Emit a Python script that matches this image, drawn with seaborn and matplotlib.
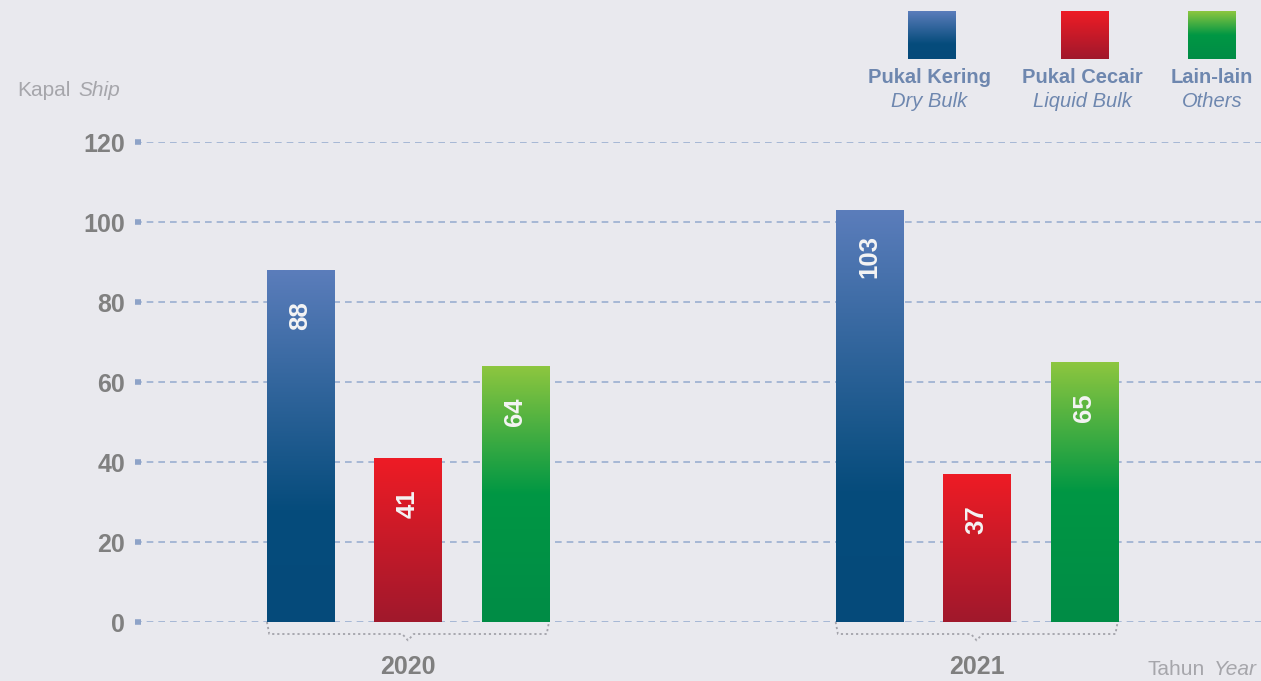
import numpy as np
import pandas as pd
import matplotlib
matplotlib.use("Agg")
from matplotlib import pyplot as plt
from matplotlib.colors import LinearSegmentedColormap
import seaborn as sns

# data
years = ["2020", "2021"]
types = ["Pukal Kering", "Pukal Cecair", "Lain-lain"]
types_en = ["Dry Bulk", "Liquid Bulk", "Others"]
dry_bulk = [88, 103]
liquid_bulk = [41, 37]
others = [64, 65]

BG = "#e9e9ee"
plt.rcParams["font.family"] = ["Liberation Sans", "DejaVu Sans"]

# colour ramps, bottom -> top
grad_maps = [
    LinearSegmentedColormap.from_list("blue", [(0, "#054a7a"), (0.32, "#064c7c"), (1, "#5b7dbb")]),
    LinearSegmentedColormap.from_list("red", [(0, "#a0182c"), (1, "#ee1c25")]),
    LinearSegmentedColormap.from_list("green", [(0, "#008c46"), (0.5, "#009744"), (1, "#8dc63f")]),
]
grad = np.linspace(0, 1, 256).reshape(-1, 1)

df = pd.DataFrame({
    "year": years * 3,
    "type": [types[0]] * 2 + [types[1]] * 2 + [types[2]] * 2,
    "count": dry_bulk + liquid_bulk + others,
})

fig = plt.figure(figsize=(12.61, 6.81), dpi=100, facecolor=BG)
ax = fig.add_axes([135 / 1261, 1 - 622 / 681, 1 - 135 / 1261, 480 / 681])
ax.set_facecolor(BG)

sns.barplot(data=df, x="year", y="count", hue="type", hue_order=types,
            palette=["#2b5a8f", "#c81b2a", "#3aa845"], width=0.567, gap=0.376,
            legend=False, ax=ax, zorder=2)

# paint gradient into each bar and put the value label on it
for i, cont in enumerate(ax.containers):
    for bar in cont:
        x0, w, h = bar.get_x(), bar.get_width(), bar.get_height()
        ax.imshow(grad, extent=[x0, x0 + w, 0, h], cmap=grad_maps[i],
                  aspect="auto", origin="lower", zorder=3)
        bar.set_visible(False)
        ax.text(x0 + w / 2, h - 11.5, "%d" % h, rotation=90, ha="center", va="center",
                color="#f4f4f4", fontweight="bold", fontsize=18.5, zorder=4)

# dotted brackets below each year group
for k in range(len(years)):
    bars = [cont[k] for cont in ax.containers]
    left = min(b.get_x() for b in bars)
    right = max(b.get_x() + b.get_width() for b in bars)
    c = (left + right) / 2
    xs = [left, left + 0.004, c - 0.01, c, c + 0.01, right - 0.004, right]
    ys = [0, -3, -3, -4.6, -3, -3, 0]
    ax.plot(xs, ys, color="#a3a3aa", lw=1.3, linestyle=(0, (1.2, 1.6)), clip_on=False, zorder=1)

ax.set_xlim(-0.48, 1.5)
ax.set_ylim(0, 120)
ax.set_yticks(range(0, 121, 20))
ax.set_xticks(range(len(years)))
ax.set_xticklabels(years)
ax.set_xlabel("")
ax.set_ylabel("")
for s in ax.spines.values():
    s.set_visible(False)
ax.set_axisbelow(True)
ax.grid(axis="y", color="#9aafd0", linestyle=(0, (4, 3)), linewidth=1.2)
ax.grid(axis="x", visible=False)
ax.tick_params(axis="y", direction="in", length=4, width=4, color="#8ea3c8",
               pad=7, labelsize=18, labelcolor="#808080")
ax.tick_params(axis="x", length=0, pad=24, labelsize=18, labelcolor="#7f7f7f")
for lab in ax.get_xticklabels() + ax.get_yticklabels():
    lab.set_fontweight("bold")

# axis captions
fig.text(17 / 1261, 1 - 96 / 681, "Kapal", fontsize=15, color="#a6a6ab", va="baseline")
fig.text(78 / 1261, 1 - 96 / 681, "Ship", fontsize=15, color="#a6a6ab", style="italic", va="baseline")
fig.text(1148 / 1261, 1 - 675 / 681, "Tahun", fontsize=15, color="#a6a6ab", va="baseline")
fig.text(1214 / 1261, 1 - 675 / 681, "Year", fontsize=15, color="#a6a6ab", style="italic", va="baseline")

# legend: gradient squares with two-line captions
sq_left = [908, 1061, 1188]
txt_cx = [929, 1082, 1212]
for i in range(len(types)):
    lax = fig.add_axes([sq_left[i] / 1261, 1 - 59 / 681, 48 / 1261, 48 / 681])
    lax.imshow(grad, cmap=grad_maps[i], aspect="auto", origin="lower", extent=[0, 1, 0, 1])
    lax.set_xlim(0, 1)
    lax.set_ylim(0, 1)
    lax.axis("off")
    fig.text(txt_cx[i] / 1261, 1 - 83 / 681, types[i], fontsize=14.5, fontweight="bold",
             color="#6e87af", ha="center", va="baseline")
    fig.text(txt_cx[i] / 1261, 1 - 107 / 681, types_en[i], fontsize=14.5, style="italic",
             color="#6e87af", ha="center", va="baseline")

fig.savefig("out.png", dpi=100, facecolor=BG)
